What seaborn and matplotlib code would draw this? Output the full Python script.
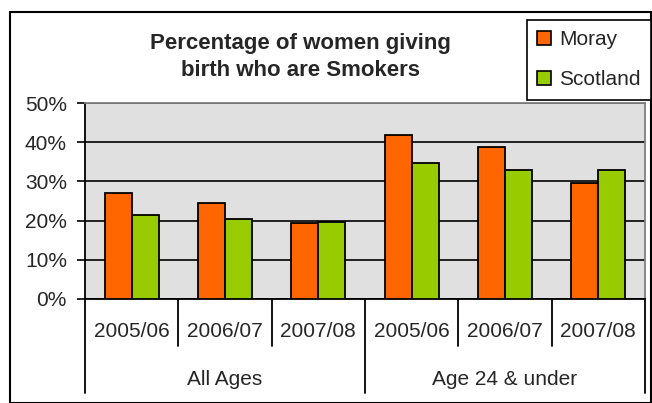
import pandas as pd
import numpy as np
import matplotlib.pyplot as plt
import seaborn as sns
from matplotlib.patches import Patch, Rectangle
from matplotlib.transforms import blended_transform_factory

# Data
groups = ['All Ages', 'Age 24 & under']
years = ['2005/06', '2006/07', '2007/08']
moray = [27.0, 24.4, 19.3, 41.8, 38.8, 29.5]
scotland = [21.4, 20.3, 19.7, 34.7, 33.0, 33.0]
series = ['Moray', 'Scotland']
colors = ['#FF6600', '#99CC00']

# Build a long table for seaborn
cats = [g + '|' + y for g in groups for y in years]
df = pd.DataFrame({
    'cat': cats * 2,
    'series': ['Moray'] * len(cats) + ['Scotland'] * len(cats),
    'value': [v / 100 for v in moray + scotland],
})

sns.set_style('white')
plt.rcParams['font.family'] = ['Liberation Sans', 'DejaVu Sans']
FS = 15

fig = plt.figure(figsize=(6.52, 4.03), dpi=100)
ax = fig.add_axes([85 / 652, 1 - 299 / 403, 560 / 652, 196 / 403])
ax.set_facecolor('#E0E0E0')

sns.barplot(data=df, x='cat', y='value', hue='series', order=cats,
            palette=colors, saturation=1, width=0.58, errorbar=None,
            edgecolor='black', linewidth=1.3, ax=ax, legend=False, zorder=3)

# Y axis
ax.set_ylim(0, 0.5)
ax.set_yticks(np.arange(0, 0.51, 0.1))
ax.set_yticklabels([f'{int(round(t * 100))}%' for t in np.arange(0, 0.51, 0.1)])
ax.tick_params(axis='y', length=6, width=1.2, labelsize=FS, pad=7, left=True, color='black')
ax.yaxis.grid(True, color='black', linewidth=1.2, zorder=1)
ax.set_axisbelow(True)
ax.set_xlim(-0.5, len(cats) - 0.5)
ax.set_xlabel('')
ax.set_ylabel('')

# Spines
ax.spines['left'].set_color('black')
ax.spines['left'].set_linewidth(1.3)
ax.spines['bottom'].set_color('black')
ax.spines['bottom'].set_linewidth(1.3)
for s in ['top', 'right']:
    ax.spines[s].set_visible(True)
    ax.spines[s].set_color('#808080')
    ax.spines[s].set_linewidth(1.3)

# Two level category axis
ax.set_xticks([])
trans = blended_transform_factory(ax.transData, ax.transAxes)
for i, c in enumerate(cats):
    ax.text(i, -0.167, c.split('|')[1], transform=trans, ha='center', va='center', fontsize=FS)
for gi, g in enumerate(groups):
    mid = gi * len(years) + (len(years) - 1) / 2
    ax.text(mid, -0.41, g, transform=trans, ha='center', va='center', fontsize=FS)
for b in np.arange(-0.5, len(cats), 1.0):
    edge = (b + 0.5) % len(years) == 0
    ax.plot([b, b], [0, -0.48 if edge else -0.238], transform=trans,
            color='black', linewidth=1.3, clip_on=False)

# Title
fig.text(0.461, 1 - 57 / 403, 'Percentage of women giving\nbirth who are Smokers',
         ha='center', va='center', fontsize=16, fontweight='bold', linespacing=1.4)

# Legend
handles = [Patch(facecolor=c, edgecolor='black', linewidth=1.2) for c in colors]
fig.legend(handles, series, loc='upper right', bbox_to_anchor=(651 / 652, 1 - 20 / 403),
           fontsize=FS, frameon=True, fancybox=False, framealpha=1, edgecolor='black',
           handlelength=0.65, handleheight=0.65, handletextpad=0.4, labelspacing=1.0,
           borderpad=0.5, borderaxespad=0)
fig.legends[0].get_frame().set_linewidth(1.2)

# Outer chart border
fig.patches.append(Rectangle((10 / 652, 0.5 / 403), 641 / 652, 391 / 403,
                             transform=fig.transFigure, fill=False,
                             edgecolor='black', linewidth=1.5))

fig.savefig('out.png', dpi=100)
